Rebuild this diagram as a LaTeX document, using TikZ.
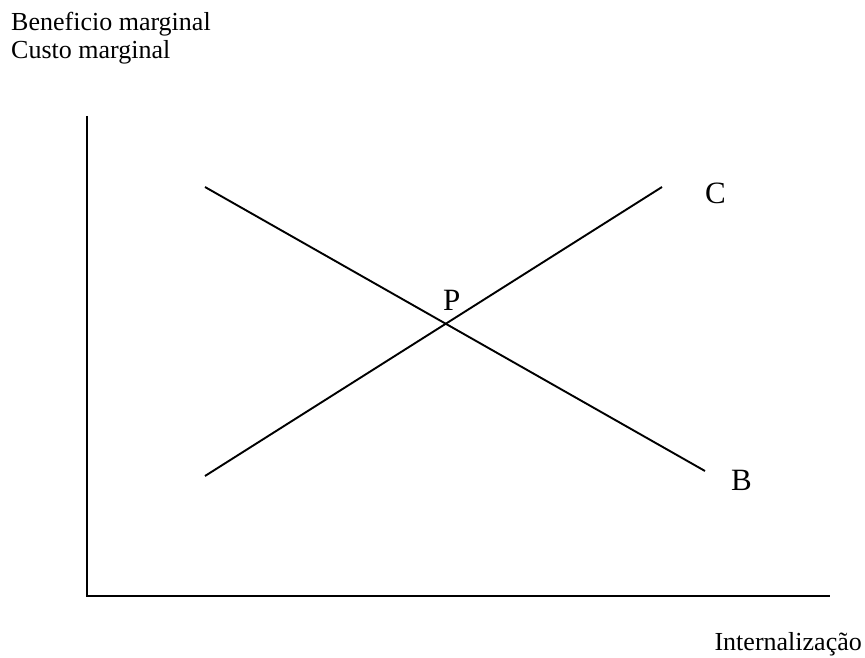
\documentclass[tikz,border=0pt]{standalone}
\usepackage{fontspec}
\setmainfont{Liberation Serif}
\usepackage{tikz}

\tikzset{
  eixo/.style={line width=1.9pt},
  curva/.style={line width=1.9pt},
  rotulo/.style={inner sep=0pt, font=\fontsize{26}{30}\selectfont},
  letra/.style={inner sep=0pt, font=\fontsize{31}{36}\selectfont}
}

\begin{document}
\begin{tikzpicture}[x=1pt, y=-1pt]
    \useasboundingbox (0,0) rectangle (865,658);

    % Eixos
    \coordinate (topo) at (87,116);
    \coordinate (origem) at (87,596);
    \coordinate (fim) at (830,596);
    \draw[eixo] (topo) -- (origem) -- (fim);

    % Titulos dos eixos
    \node[rotulo, anchor=base west] (benef) at (11,31) {Beneficio marginal};
    \node[rotulo, anchor=base west] (custo) at (11,59) {Custo marginal};
    \node[rotulo, anchor=base east] (intern) at (862,650) {Internalização};

    % Curvas de beneficio e custo
    \coordinate (b0) at (205,187);
    \coordinate (b1) at (705,471);
    \coordinate (c0) at (205,476);
    \coordinate (c1) at (662,187);
    \draw[curva] (b0) -- (b1);
    \draw[curva] (c0) -- (c1);

    % Letras
    \node[letra, anchor=base west] (P) at (443,310) {P};
    \node[letra, anchor=base west] (C) at (705,203) {C};
    \node[letra, anchor=base west] (B) at (731,490) {B};
\end{tikzpicture}
\end{document}
